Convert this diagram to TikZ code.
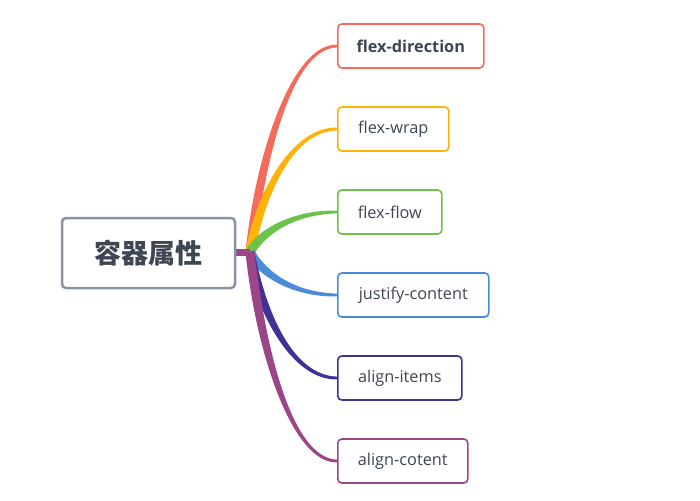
\documentclass[tikz,border=0pt]{standalone}
\usepackage{fontspec}
\setmainfont{Open Sans}
\newfontfamily\cjk{Noto Sans CJK SC}
\usetikzlibrary{calc,backgrounds}
\definecolor{txt}{HTML}{3F4653}
\definecolor{cgray}{HTML}{8A93A3}
\definecolor{cred}{HTML}{F56B5B}
\definecolor{camber}{HTML}{FFB307}
\definecolor{cgreen}{HTML}{6CC24A}
\definecolor{cblue}{HTML}{4A8CD8}
\definecolor{cindigo}{HTML}{3F3196}
\definecolor{cplum}{HTML}{9B4688}
\tikzset{
  root/.style={draw=cgray, line width=2.5pt, rounded corners=4pt, fill=white,
    minimum width=173pt, minimum height=70pt, inner sep=0pt,
    font=\cjk\bfseries\fontsize{27}{30}\selectfont, text=txt},
  leaf/.style={draw=#1, line width=1.6pt, rounded corners=4pt, fill=white,
    anchor=west, minimum height=44pt, inner sep=0pt,
    font=\fontsize{16.3}{18}\selectfont, text=txt},
}
\newcommand\brnch[2]{%
  \fill[#1] let \p1=(o), \p2=(#2.west),
    \n1={\x2-\x1}, \n2={\y2-\y1},
    \p3=(\x1+0.13*\n1, \y1+0.5*\n2),
    \p4=(\x1+0.5*\n1, \y2),
    \p6=($(\p1)!4.5pt!90:(\p3)$)
  in (\p6) .. controls (\x3+1.1*\x6-1.1*\x1, \y3+1.1*\y6-1.1*\y1) and (\x4,\y4+2.6pt) .. (\x2,\y2+1.4pt)
     -- (\x2,\y2-1.4pt) .. controls (\x4,\y4-2.6pt) and (\x3-1.1*\x6+1.1*\x1, \y3-1.1*\y6+1.1*\y1) .. (2*\x1-\x6, 2*\y1-\y6) -- cycle;%
}
\begin{document}
\begin{tikzpicture}[x=1pt,y=-1pt]
\useasboundingbox (0,0) rectangle (700,500);
\node[root] (c) at (148.5,253) {容器属性};
\coordinate (o) at (250,252);
\node[leaf=cred, minimum width=146pt] (n1) at (337,46) {\bfseries flex-direction};
\node[leaf=camber, minimum width=111pt] (n2) at (337,129) {flex-wrap};
\node[leaf=cgreen, minimum width=104pt] (n3) at (337,212) {flex-flow};
\node[leaf=cblue, minimum width=151pt] (n4) at (337,295) {justify-content};
\node[leaf=cindigo, minimum width=124pt] (n5) at (337,378) {align-items};
\node[leaf=cplum, minimum width=130pt] (n6) at (337,461) {align-cotent};
\begin{pgfonlayer}{background}
\brnch{cred}{n1}
\brnch{camber}{n2}
\brnch{cgreen}{n3}
\brnch{cblue}{n4}
\brnch{cindigo}{n5}
\brnch{cplum}{n6}
\draw[cplum, line width=7pt] (c.east |- o) -- (o);
\end{pgfonlayer}
\end{tikzpicture}
\end{document}
